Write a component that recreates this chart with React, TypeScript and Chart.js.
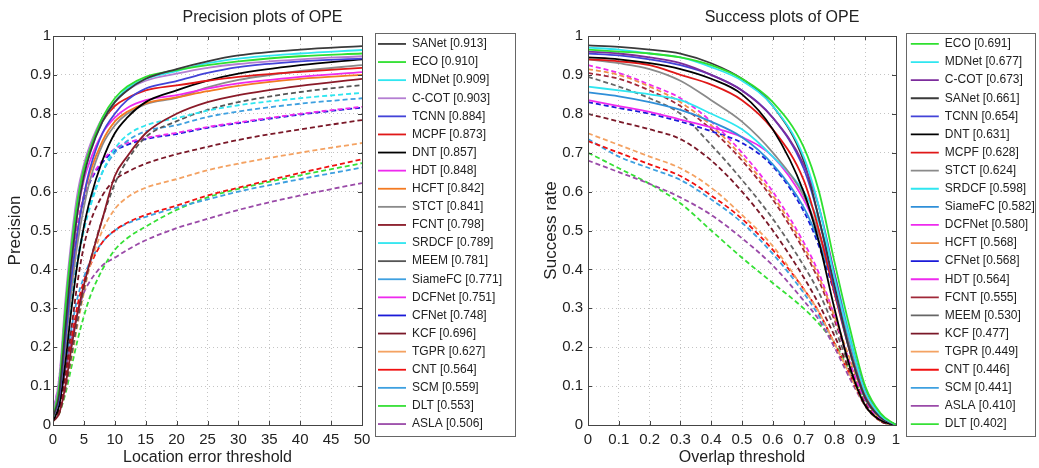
import React, { useEffect, useRef } from 'react';
import { Chart, registerables } from 'chart.js';

Chart.register(...registerables);

// ---------- Precision plot data ----------
const precisionThresholds = [0, 1, 2, 3, 4, 5, 6, 8, 10, 12, 15, 20, 25, 30, 40, 50];
const precisionTrackers = ['SANet', 'ECO', 'MDNet', 'C-COT', 'TCNN', 'MCPF', 'DNT', 'HDT', 'HCFT', 'STCT', 'FCNT', 'SRDCF', 'MEEM', 'SiameFC', 'DCFNet', 'CFNet', 'KCF', 'TGPR', 'CNT', 'SCM', 'DLT', 'ASLA'];
const precisionScores = ['0.913', '0.910', '0.909', '0.903', '0.884', '0.873', '0.857', '0.848', '0.842', '0.841', '0.798', '0.789', '0.781', '0.771', '0.751', '0.748', '0.696', '0.627', '0.564', '0.559', '0.553', '0.506'];

const precSANet = [0.02, 0.08, 0.25, 0.42, 0.55, 0.64, 0.70, 0.78, 0.83, 0.86, 0.89, 0.915, 0.935, 0.95, 0.965, 0.974];
const precECO = [0.02, 0.10, 0.30, 0.46, 0.58, 0.66, 0.71, 0.79, 0.84, 0.87, 0.895, 0.912, 0.925, 0.935, 0.948, 0.955];
const precMDNet = [0.02, 0.09, 0.27, 0.43, 0.56, 0.64, 0.70, 0.78, 0.83, 0.865, 0.89, 0.91, 0.93, 0.942, 0.955, 0.964];
const precCCOT = [0.03, 0.12, 0.32, 0.48, 0.60, 0.67, 0.72, 0.79, 0.83, 0.86, 0.885, 0.903, 0.918, 0.928, 0.94, 0.948];
const precTCNN = [0.02, 0.07, 0.22, 0.38, 0.50, 0.59, 0.66, 0.75, 0.80, 0.835, 0.865, 0.884, 0.905, 0.92, 0.935, 0.942];
const precMCPF = [0.02, 0.10, 0.30, 0.46, 0.58, 0.66, 0.71, 0.78, 0.82, 0.84, 0.86, 0.873, 0.885, 0.895, 0.908, 0.918];
const precDNT = [0.01, 0.05, 0.16, 0.30, 0.42, 0.51, 0.58, 0.68, 0.75, 0.79, 0.83, 0.86, 0.885, 0.903, 0.925, 0.94];
const precHDT = [0.02, 0.08, 0.25, 0.42, 0.55, 0.63, 0.68, 0.75, 0.79, 0.815, 0.835, 0.848, 0.865, 0.878, 0.895, 0.907];
const precHCFT = [0.02, 0.07, 0.22, 0.38, 0.50, 0.59, 0.65, 0.73, 0.78, 0.805, 0.827, 0.842, 0.858, 0.872, 0.89, 0.90];
const precSTCT = [0.02, 0.06, 0.20, 0.35, 0.47, 0.56, 0.63, 0.72, 0.77, 0.80, 0.825, 0.841, 0.868, 0.887, 0.91, 0.925];
const precFCNT = [0.01, 0.03, 0.10, 0.20, 0.29, 0.36, 0.42, 0.53, 0.64, 0.69, 0.75, 0.80, 0.83, 0.848, 0.872, 0.89];
const precSRDCF = [0.02, 0.07, 0.20, 0.32, 0.42, 0.50, 0.56, 0.65, 0.71, 0.745, 0.77, 0.789, 0.808, 0.822, 0.84, 0.854];
const precMEEM = [0.01, 0.03, 0.09, 0.18, 0.27, 0.35, 0.42, 0.53, 0.62, 0.68, 0.74, 0.781, 0.81, 0.83, 0.856, 0.874];
const precSiameFC = [0.02, 0.07, 0.20, 0.33, 0.43, 0.51, 0.57, 0.65, 0.70, 0.73, 0.755, 0.771, 0.792, 0.806, 0.826, 0.84];
const precDCFNet = [0.03, 0.12, 0.28, 0.42, 0.52, 0.59, 0.63, 0.68, 0.71, 0.725, 0.738, 0.751, 0.766, 0.778, 0.80, 0.818];
const precCFNet = [0.03, 0.11, 0.27, 0.41, 0.51, 0.58, 0.625, 0.675, 0.705, 0.72, 0.735, 0.748, 0.764, 0.776, 0.798, 0.816];
const precKCF = [0.01, 0.04, 0.13, 0.25, 0.37, 0.46, 0.52, 0.59, 0.63, 0.65, 0.672, 0.696, 0.715, 0.733, 0.76, 0.784];
const precTGPR = [0.01, 0.03, 0.09, 0.17, 0.26, 0.34, 0.41, 0.50, 0.555, 0.585, 0.61, 0.632, 0.655, 0.672, 0.70, 0.725];
const precCNT = [0.01, 0.04, 0.12, 0.22, 0.31, 0.37, 0.41, 0.47, 0.50, 0.52, 0.54, 0.564, 0.59, 0.61, 0.648, 0.683];
const precSCM = [0.02, 0.07, 0.16, 0.25, 0.33, 0.38, 0.42, 0.47, 0.50, 0.518, 0.535, 0.559, 0.58, 0.60, 0.632, 0.662];
const precDLT = [0.01, 0.03, 0.08, 0.15, 0.22, 0.28, 0.33, 0.40, 0.45, 0.48, 0.51, 0.553, 0.585, 0.607, 0.642, 0.673];
const precASLA = [0.02, 0.06, 0.14, 0.22, 0.29, 0.34, 0.37, 0.41, 0.43, 0.45, 0.475, 0.506, 0.53, 0.553, 0.59, 0.622];

const precisionValues = [precSANet, precECO, precMDNet, precCCOT, precTCNN, precMCPF, precDNT, precHDT, precHCFT, precSTCT, precFCNT, precSRDCF, precMEEM, precSiameFC, precDCFNet, precCFNet, precKCF, precTGPR, precCNT, precSCM, precDLT, precASLA];

// ---------- Success plot data ----------
const overlapThresholds = [0, 0.1, 0.2, 0.3, 0.4, 0.5, 0.6, 0.7, 0.75, 0.8, 0.85, 0.9, 0.95, 1];
const successTrackers = ['ECO', 'MDNet', 'C-COT', 'SANet', 'TCNN', 'DNT', 'MCPF', 'STCT', 'SRDCF', 'SiameFC', 'DCFNet', 'HCFT', 'CFNet', 'HDT', 'FCNT', 'MEEM', 'KCF', 'TGPR', 'CNT', 'SCM', 'ASLA', 'DLT'];
const successScores = ['0.691', '0.677', '0.673', '0.661', '0.654', '0.631', '0.628', '0.624', '0.598', '0.582', '0.580', '0.568', '0.568', '0.564', '0.555', '0.530', '0.477', '0.449', '0.446', '0.441', '0.410', '0.402'];

const succECO = [0.965, 0.96, 0.955, 0.945, 0.925, 0.89, 0.83, 0.715, 0.6, 0.42, 0.25, 0.1, 0.03, 0];
const succMDNet = [0.97, 0.965, 0.955, 0.945, 0.92, 0.885, 0.82, 0.69, 0.56, 0.38, 0.22, 0.085, 0.025, 0];
const succCCOT = [0.96, 0.955, 0.945, 0.93, 0.9, 0.86, 0.79, 0.67, 0.56, 0.39, 0.22, 0.09, 0.025, 0];
const succSANet = [0.976, 0.972, 0.965, 0.955, 0.93, 0.89, 0.82, 0.68, 0.53, 0.36, 0.19, 0.07, 0.02, 0];
const succTCNN = [0.955, 0.95, 0.94, 0.925, 0.9, 0.86, 0.79, 0.66, 0.53, 0.35, 0.19, 0.07, 0.02, 0];
const succDNT = [0.945, 0.94, 0.93, 0.915, 0.89, 0.85, 0.76, 0.6, 0.47, 0.3, 0.15, 0.05, 0.012, 0];
const succMCPF = [0.94, 0.935, 0.925, 0.9, 0.875, 0.835, 0.76, 0.63, 0.5, 0.34, 0.19, 0.075, 0.02, 0];
const succSTCT = [0.94, 0.93, 0.915, 0.885, 0.835, 0.78, 0.7, 0.59, 0.49, 0.35, 0.2, 0.08, 0.02, 0];
const succSRDCF = [0.87, 0.86, 0.85, 0.835, 0.8, 0.76, 0.69, 0.6, 0.52, 0.39, 0.23, 0.09, 0.025, 0];
const succSiameFC = [0.855, 0.845, 0.83, 0.81, 0.78, 0.74, 0.67, 0.56, 0.47, 0.35, 0.2, 0.08, 0.02, 0];
const succDCFNet = [0.835, 0.82, 0.805, 0.785, 0.765, 0.74, 0.69, 0.58, 0.49, 0.37, 0.21, 0.085, 0.02, 0];
const succHCFT = [0.915, 0.9, 0.87, 0.83, 0.77, 0.69, 0.59, 0.46, 0.38, 0.28, 0.17, 0.07, 0.015, 0];
const succCFNet = [0.83, 0.815, 0.8, 0.78, 0.755, 0.725, 0.665, 0.55, 0.46, 0.34, 0.2, 0.08, 0.02, 0];
const succHDT = [0.925, 0.905, 0.875, 0.84, 0.78, 0.7, 0.6, 0.47, 0.39, 0.28, 0.16, 0.065, 0.015, 0];
const succFCNT = [0.905, 0.89, 0.86, 0.82, 0.76, 0.68, 0.58, 0.45, 0.37, 0.27, 0.16, 0.06, 0.015, 0];
const succMEEM = [0.895, 0.87, 0.84, 0.8, 0.72, 0.63, 0.53, 0.41, 0.34, 0.25, 0.15, 0.06, 0.015, 0];
const succKCF = [0.8, 0.78, 0.76, 0.735, 0.68, 0.6, 0.5, 0.38, 0.31, 0.23, 0.14, 0.055, 0.01, 0];
const succTGPR = [0.75, 0.72, 0.69, 0.66, 0.61, 0.54, 0.46, 0.35, 0.29, 0.21, 0.13, 0.05, 0.01, 0];
const succCNT = [0.73, 0.7, 0.67, 0.64, 0.59, 0.53, 0.45, 0.35, 0.29, 0.21, 0.13, 0.05, 0.01, 0];
const succSCM = [0.735, 0.69, 0.66, 0.63, 0.58, 0.52, 0.44, 0.34, 0.28, 0.21, 0.13, 0.05, 0.01, 0];
const succASLA = [0.68, 0.65, 0.62, 0.585, 0.54, 0.48, 0.41, 0.32, 0.27, 0.2, 0.12, 0.05, 0.01, 0];
const succDLT = [0.7, 0.66, 0.62, 0.57, 0.5, 0.43, 0.365, 0.3, 0.26, 0.21, 0.14, 0.065, 0.015, 0];

const successValues = [succECO, succMDNet, succCCOT, succSANet, succTCNN, succDNT, succMCPF, succSTCT, succSRDCF, succSiameFC, succDCFNet, succHCFT, succCFNet, succHDT, succFCNT, succMEEM, succKCF, succTGPR, succCNT, succSCM, succASLA, succDLT];

// ---------- Styles ----------
const precisionStyles: Record<string, [string, boolean]> = {
  SANet: ['#3a3a3a', false], ECO: ['#2fe02f', false], MDNet: ['#2fe6f0', false], 'C-COT': ['#b47ed2', false],
  TCNN: ['#4343d8', false], MCPF: ['#e01818', false], DNT: ['#000000', false], HDT: ['#ee2aee', false],
  HCFT: ['#f37a22', false], STCT: ['#8a8a8a', false], FCNT: ['#8a1a28', false], SRDCF: ['#2fe6f0', true],
  MEEM: ['#555555', true], SiameFC: ['#3ea0e0', true], DCFNet: ['#ee2aee', true], CFNet: ['#1a1ad8', true],
  KCF: ['#7a1828', true], TGPR: ['#f4a262', true], CNT: ['#f01010', true], SCM: ['#3ea0e0', true],
  DLT: ['#36e036', true], ASLA: ['#9a4aa8', true],
};
const successStyles: Record<string, [string, boolean]> = {
  ECO: ['#2fe02f', false], MDNet: ['#2fe6f0', false], 'C-COT': ['#7c2c9c', false], SANet: ['#3a3a3a', false],
  TCNN: ['#4343d8', false], DNT: ['#000000', false], MCPF: ['#e01818', false], STCT: ['#8a8a8a', false],
  SRDCF: ['#2fe6f0', false], SiameFC: ['#2f8fd8', false], DCFNet: ['#ee2aee', false], HCFT: ['#f0904a', true],
  CFNet: ['#1a1ad8', true], HDT: ['#ee2aee', true], FCNT: ['#a02838', true], MEEM: ['#666666', true],
  KCF: ['#7a1828', true], TGPR: ['#f4a262', true], CNT: ['#f01010', true], SCM: ['#3ea0e0', true],
  ASLA: ['#9a4aa8', true], DLT: ['#36e036', true],
};

const FONT = "Arial, 'Liberation Sans', Helvetica, sans-serif";

const framePlugin = {
  id: 'frame',
  beforeLayout(chart: any, _args: any, opts: any) {
    const lg = chart.legend;
    if (lg && !lg._fixedWidth) {
      const orig = lg.fit.bind(lg);
      lg.fit = () => {
        orig();
        lg.width = opts.legendWidth;
      };
      lg._fixedWidth = true;
    }
  },
  afterLayout(chart: any, _args: any, opts: any) {
    const lg = chart.legend;
    if (lg && opts.legendShift) {
      lg.left += opts.legendShift;
      lg.right += opts.legendShift;
    }
  },
  afterDraw(chart: any, _args: any, opts: any) {
    const { ctx, chartArea: a } = chart;
    ctx.save();
    ctx.strokeStyle = '#444';
    ctx.lineWidth = 1;
    ctx.setLineDash([]);
    ctx.strokeRect(Math.round(a.left) + 0.5, Math.round(a.top) + 0.5, Math.round(a.right - a.left), Math.round(a.bottom - a.top));
    const xs = chart.scales.x;
    const ys = chart.scales.y;
    ctx.beginPath();
    xs.ticks.forEach((t: any) => {
      const px = Math.round(xs.getPixelForValue(t.value)) + 0.5;
      ctx.moveTo(px, a.bottom); ctx.lineTo(px, a.bottom - 4);
      ctx.moveTo(px, a.top); ctx.lineTo(px, a.top + 4);
    });
    ys.ticks.forEach((t: any) => {
      const py = Math.round(ys.getPixelForValue(t.value)) + 0.5;
      ctx.moveTo(a.left, py); ctx.lineTo(a.left + 4, py);
      ctx.moveTo(a.right, py); ctx.lineTo(a.right - 4, py);
    });
    ctx.stroke();
    const lg = chart.legend;
    if (lg && lg.legendHitBoxes && lg.legendHitBoxes.length) {
      const hb = lg.legendHitBoxes;
      const left = Math.min(...hb.map((h: any) => h.left)) - opts.boxPadL;
      const right = left + opts.boxWidth;
      const top = hb[0].top - opts.boxPadT;
      const last = hb[hb.length - 1];
      const bottom = last.top + last.height + opts.boxPadB;
      ctx.strokeStyle = '#666';
      ctx.strokeRect(Math.round(left) + 0.5, Math.round(top) + 0.5, Math.round(right - left), Math.round(bottom - top));
    }
    ctx.restore();
  },
};

const tickLabel = (v: any) => String(Number(Number(v).toFixed(2)));

type PlotCfg = {
  title: string;
  xTitle: string;
  yTitle: string;
  xs: number[];
  names: string[];
  scores: string[];
  values: number[][];
  styles: Record<string, [string, boolean]>;
  xMax: number;
  xStep: number;
  yAxisWidth: number;
  yTitlePad: number;
  yTickPad: number;
  legendPad: number;
  legendWidth: number;
  legendShift: number;
  box: { l: number; w: number; t: number; b: number };
};

function buildChart(canvas: HTMLCanvasElement, cfg: PlotCfg) {
  const datasets = cfg.names.map((name, i) => {
    const [color, dashed] = cfg.styles[name];
    return {
      label: `${name} [${cfg.scores[i]}]`,
      data: cfg.xs.map((x, j) => ({ x, y: cfg.values[i][j] })),
      borderColor: color,
      backgroundColor: color,
      borderWidth: 1.8,
      borderDash: dashed ? [5, 3] : [],
      pointRadius: 0,
      cubicInterpolationMode: 'monotone' as const,
      fill: false,
    };
  });
  return new Chart(canvas, {
    type: 'line',
    data: { datasets },
    plugins: [framePlugin],
    options: {
      responsive: false,
      animation: false,
      devicePixelRatio: 1,
      layout: { padding: { left: 0, right: 0, top: 0, bottom: 0 } },
      plugins: {
        title: {
          display: true,
          text: cfg.title,
          color: '#222',
          font: { size: 16, family: FONT, weight: 'normal' },
          padding: { top: 8, bottom: 8.8 },
        },
        legend: {
          display: true,
          position: 'right',
          align: 'center',
          labels: {
            usePointStyle: true,
            pointStyle: 'line',
            pointStyleWidth: 28,
            boxHeight: 12,
            padding: cfg.legendPad,
            color: '#222',
            font: { size: 12, family: FONT },
          },
        },
        tooltip: { enabled: false },
        // @ts-ignore
        frame: { legendWidth: cfg.legendWidth, legendShift: cfg.legendShift, boxPadL: cfg.box.l, boxWidth: cfg.box.w, boxPadT: cfg.box.t, boxPadB: cfg.box.b },
      },
      scales: {
        x: {
          type: 'linear',
          min: 0,
          max: cfg.xMax,
          afterFit: (s: any) => { s.height = 43; },
          ticks: { stepSize: cfg.xStep, color: '#222', padding: 6, font: { size: 15, family: FONT }, maxRotation: 0, callback: tickLabel },
          grid: { color: '#c4c4c4', drawTicks: false, lineWidth: 1 },
          border: { display: false, dash: [1, 3] },
          title: { display: true, text: cfg.xTitle, color: '#222', font: { size: 16, family: FONT }, padding: { top: 0, bottom: 0.4 } },
        },
        y: {
          type: 'linear',
          min: 0,
          max: 1,
          afterFit: (s: any) => { s.width = cfg.yAxisWidth; },
          ticks: { stepSize: 0.1, color: '#222', padding: cfg.yTickPad, font: { size: 15, family: FONT }, callback: tickLabel },
          grid: { color: '#c4c4c4', drawTicks: false, lineWidth: 1 },
          border: { display: false, dash: [1, 3] },
          title: { display: true, text: cfg.yTitle, color: '#222', font: { size: 17, family: FONT }, padding: { top: cfg.yTitlePad, bottom: 0 } },
        },
      },
    } as any,
  });
}

export default function App() {
  const leftRef = useRef<HTMLCanvasElement>(null);
  const rightRef = useRef<HTMLCanvasElement>(null);

  useEffect(() => {
    const charts: Chart[] = [];
    if (leftRef.current) {
      charts.push(buildChart(leftRef.current, {
        title: 'Precision plots of OPE',
        xTitle: 'Location error threshold',
        yTitle: 'Precision',
        xs: precisionThresholds,
        names: precisionTrackers,
        scores: precisionScores,
        values: precisionValues,
        styles: precisionStyles,
        xMax: 50,
        xStep: 5,
        yAxisWidth: 53,
        yTitlePad: 4.8,
        yTickPad: 2,
        legendPad: 6.1,
        legendWidth: 163,
        legendShift: 9.9,
        box: { l: 3, w: 140, t: 5, b: 6 },
      }));
    }
    if (rightRef.current) {
      charts.push(buildChart(rightRef.current, {
        title: 'Success plots of OPE',
        xTitle: 'Overlap threshold',
        yTitle: 'Success rate',
        xs: overlapThresholds,
        names: successTrackers,
        scores: successScores,
        values: successValues,
        styles: successStyles,
        xMax: 1,
        xStep: 0.1,
        yAxisWidth: 63,
        yTitlePad: 15.8,
        yTickPad: 5,
        legendPad: 6.1,
        legendWidth: 143,
        legendShift: 8.7,
        box: { l: 5, w: 129, t: 5, b: 6 },
      }));
    }
    return () => charts.forEach((c) => c.destroy());
  }, []);

  return (
    <div style={{ position: 'fixed', left: 0, top: 0, width: 1039, height: 468, background: '#fff' }}>
      <canvas ref={leftRef} width={525} height={468} style={{ position: 'absolute', left: 0, top: 0, width: 525, height: 468 }} />
      <canvas ref={rightRef} width={514} height={468} style={{ position: 'absolute', left: 525, top: 0, width: 514, height: 468 }} />
    </div>
  );
}
